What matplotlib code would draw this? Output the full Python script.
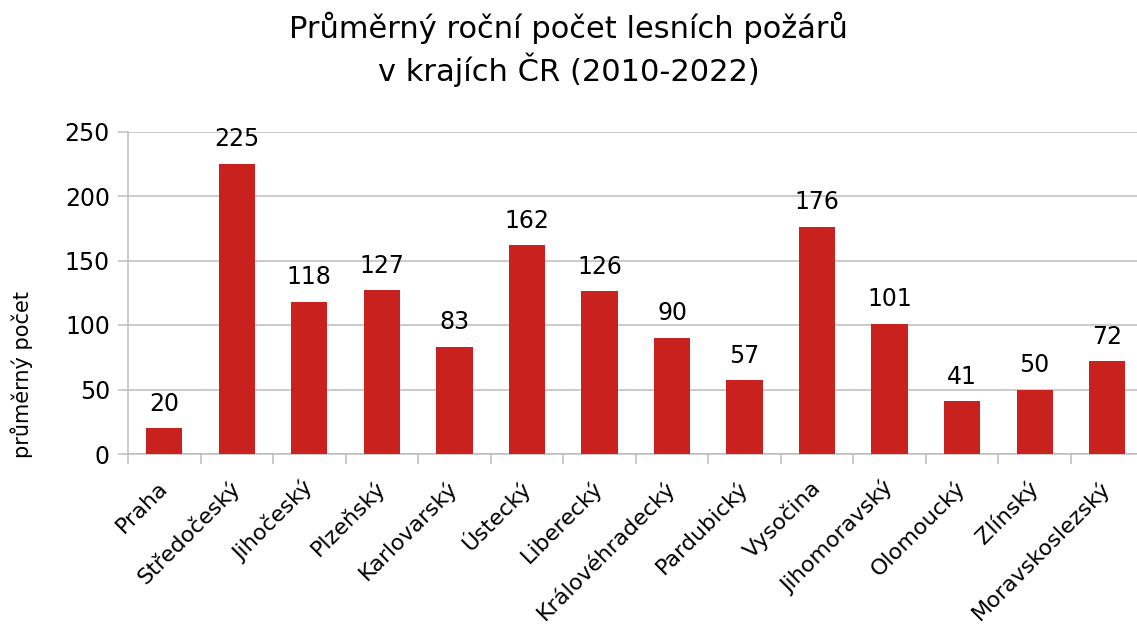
import matplotlib
matplotlib.use("Agg")
import matplotlib.pyplot as plt

regions = ["Praha", "Středočeský", "Jihočeský", "Plzeňský", "Karlovarský", "Ústecký",
           "Liberecký", "Královéhradecký", "Pardubický", "Vysočina", "Jihomoravský",
           "Olomoucký", "Zlínský", "Moravskoslezský"]
values = [20, 225, 118, 127, 83, 162, 126, 90, 57, 176, 101, 41, 50, 72]
yticks = [0, 50, 100, 150, 200, 250]
title = "Průměrný roční počet lesních požárů\nv krajích ČR (2010-2022)"
ylabel = "průměrný počet"

plt.rcParams['font.family'] = ['DejaVu Sans']

W, H = 1137, 626
fig = plt.figure(figsize=(W/100, H/100), dpi=100)
left, right = 128, 1143.5
top, bottom = 131.5, 454
ax = fig.add_axes([left/W, 1 - bottom/H, (right-left)/W, (bottom-top)/H])

x = list(range(len(regions)))
bars = ax.bar(x, values, width=0.5, color="#C9211E", zorder=3)
ax.set_xlim(-0.5, len(regions) - 0.5)
ax.set_ylim(0, 250)
ax.set_yticks(yticks)
ax.set_yticklabels([str(v) for v in yticks], fontsize=17)
ax.yaxis.grid(True, color="#BDBDBD", linewidth=1.1, zorder=0)
ax.tick_params(axis='y', length=7, color="#BDBDBD", width=1.1, pad=6)
ax.tick_params(axis='x', length=0)
ax.set_xticks(x)
ax.set_xticklabels(regions, rotation=45, ha='right', va='center', rotation_mode='anchor', fontsize=16)
for lbl in ax.get_xticklabels():
    lbl.set_y(-0.08)
# category boundary ticks
ax.set_xticks([i - 0.5 for i in range(len(regions) + 1)], minor=True)
ax.tick_params(axis='x', which='minor', length=7, color="#BDBDBD", width=1.1)
for s in ['top', 'right']:
    ax.spines[s].set_visible(False)
ax.spines['left'].set_color("#BDBDBD")
ax.spines['bottom'].set_color("#BDBDBD")
ax.spines['left'].set_linewidth(1.1)
ax.spines['bottom'].set_linewidth(1.1)

for xi, v in zip(x, values):
    ax.annotate(str(v), (xi, v), xytext=(0, 9), textcoords='offset points',
                ha='center', va='bottom', fontsize=17)

ax.set_ylabel(ylabel, fontsize=15)
ax.yaxis.set_label_coords(-0.0935, 0.245)
fig.text(0.5, 1 - 49/H, title, ha='center', va='center', fontsize=22, linespacing=1.3)

fig.savefig("out.png", dpi=100)
